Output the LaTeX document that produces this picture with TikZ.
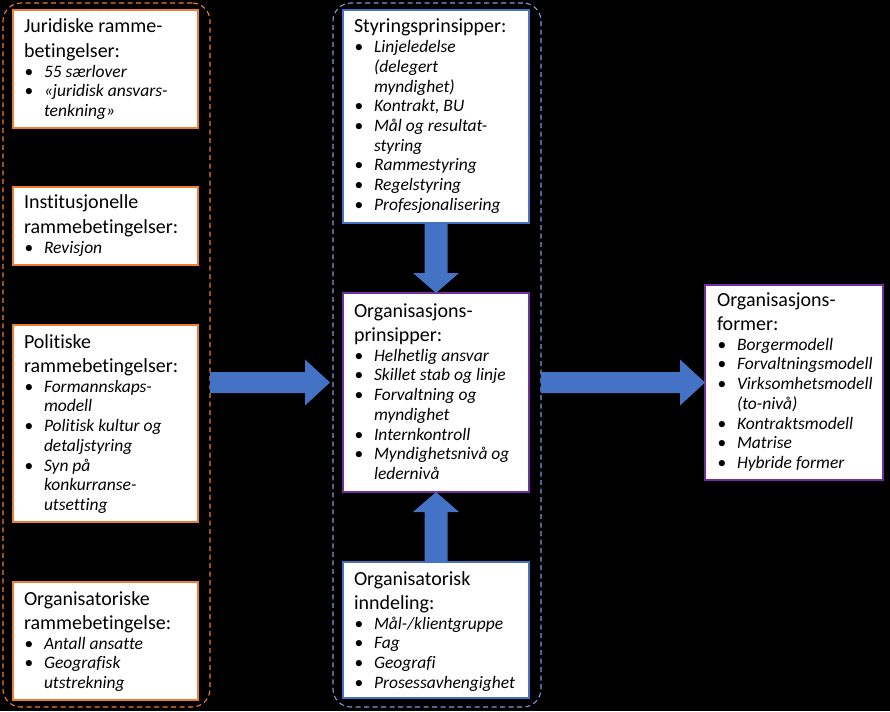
\documentclass[tikz,border=0pt]{standalone}
\usepackage{fontspec}
\setmainfont[Ligatures={NoCommon,NoRare,NoContextual}]{Carlito}
\usetikzlibrary{calc}
\definecolor{orng}{HTML}{ED7D31}
\definecolor{blu}{HTML}{4472C4}
\definecolor{dblu}{HTML}{7E9BD6}
\definecolor{purp}{HTML}{7030A0}
\newcommand\ttl[1]{\baselineskip=24.5pt\hbox{\fontsize{20}{24}\selectfont #1}}
\newcommand\itm[1]{\baselineskip=19.7pt\hbox{\fontsize{17.5}{20}\selectfont\makebox[20pt][l]{\hspace{0.5pt}•}\textit{#1}}}
\newcommand\cnt[1]{\baselineskip=19.7pt\hbox{\fontsize{17.5}{20}\selectfont\hspace*{20pt}\textit{#1}}}
\newcommand\blk[1]{\vtop{\lineskiplimit=-100pt\relax #1}}
\newcommand\harr[2]{\fill[blu] let \p1=(#1), \p2=(#2) in
  (\x1,{\y2+10.5pt}) -- ({\x2-25pt},{\y2+10.5pt}) -- ({\x2-25pt},{\y2+23pt}) -- (\x2,\y2)
  -- ({\x2-25pt},{\y2-23pt}) -- ({\x2-25pt},{\y2-10.5pt}) -- (\x1,{\y2-10.5pt}) -- cycle;}
\newcommand\darr[2]{\fill[blu] let \p1=(#1), \p2=(#2) in
  ({\x2-11.5pt},\y1) -- ({\x2-11.5pt},{\y2+20pt}) -- ({\x2-23pt},{\y2+20pt}) -- (\x2,\y2)
  -- ({\x2+23pt},{\y2+20pt}) -- ({\x2+11.5pt},{\y2+20pt}) -- ({\x2+11.5pt},\y1) -- cycle;}
\newcommand\uarr[2]{\fill[blu] let \p1=(#1), \p2=(#2) in
  ({\x2-11.5pt},\y1) -- ({\x2-11.5pt},{\y2-20pt}) -- ({\x2-23pt},{\y2-20pt}) -- (\x2,\y2)
  -- ({\x2+23pt},{\y2-20pt}) -- ({\x2+11.5pt},{\y2-20pt}) -- ({\x2+11.5pt},\y1) -- cycle;}
\begin{document}
\begin{tikzpicture}[x=1pt,y=-1pt,
  box/.style={draw,fill=white,line width=1.5pt,inner sep=0pt,outer sep=0pt},
  txt/.style={inner sep=0pt,outer sep=0pt,anchor=base west,text=black},
  cont/.style={draw,dash pattern=on 5pt off 3.5pt,line width=1.1pt,rounded corners=18pt,inner sep=0pt,outer sep=0pt}]
\useasboundingbox (0,0) rectangle (890,711);
\fill[black] (0,0) rectangle (890,711);
% containers
\node[cont,draw=orng,minimum width=207pt,minimum height=704pt] (lc) at (106.5,355) {};
\node[cont,draw=dblu,minimum width=208pt,minimum height=704pt] (mc) at (437,355) {};
% left boxes
\node[box,draw=orng,minimum width=185pt,minimum height=118pt] (b1) at (105.5,69) {};
\node[txt] (t1) at ($(b1.north west)+(11,23)$) {\blk{\ttl{Juridiske ramme-}\ttl{betingelser:}\itm{55 særlover}\itm{«juridisk ansvars-}\cnt{tenkning»}}};
\node[box,draw=orng,minimum width=185pt,minimum height=78pt] (b2) at (105.5,226) {};
\node[txt] (t2) at ($(b2.north west)+(11,22)$) {\blk{\ttl{Institusjonelle}\ttl{rammebetingelser:}\itm{Revisjon}}};
\node[box,draw=orng,minimum width=185pt,minimum height=197pt] (b3) at (105.5,423.5) {};
\node[txt] (t3) at ($(b3.north west)+(11,23)$) {\blk{\ttl{Politiske}\ttl{rammebetingelser:}\itm{Formannskaps-}\cnt{modell}\itm{Politisk kultur og}\cnt{detaljstyring}\itm{Syn på}\cnt{konkurranse-}\cnt{utsetting}}};
\node[box,draw=orng,minimum width=185pt,minimum height=118pt] (b4) at (105.5,641) {};
\node[txt] (t4) at ($(b4.north west)+(11,23)$) {\blk{\ttl{Organisatoriske}\ttl{rammebetingelse:}\itm{Antall ansatte}\itm{Geografisk}\cnt{utstrekning}}};
% middle boxes
\node[box,draw=blu,minimum width=186pt,minimum height=213pt] (s) at (436,116.5) {};
\node[txt] (ts) at ($(s.north west)+(11,23)$) {\blk{\ttl{Styringsprinsipper:}\itm{Linjeledelse}\cnt{(delegert}\cnt{myndighet)}\itm{Kontrakt, BU}\itm{Mål og resultat-}\cnt{styring}\itm{Rammestyring}\itm{Regelstyring}\itm{Profesjonalisering}}};
\node[box,draw=purp,minimum width=186pt,minimum height=199pt] (o) at (436,392.5) {};
\node[txt] (to) at ($(o.north west)+(11,24)$) {\blk{\ttl{Organisasjons-}\ttl{prinsipper:}\itm{Helhetlig ansvar}\itm{Skillet stab og linje}\itm{Forvaltning og}\cnt{myndighet}\itm{Internkontroll}\itm{Myndighetsnivå og}\cnt{ledernivå}}};
\node[box,draw=blu,minimum width=186pt,minimum height=136pt] (i) at (436,630) {};
\node[txt] (ti) at ($(i.north west)+(11,23)$) {\blk{\ttl{Organisatorisk}\ttl{inndeling:}\itm{Mål-/klientgruppe}\itm{Fag}\itm{Geografi}\itm{Prosessavhengighet}}};
% right box
\node[box,draw=purp,minimum width=178pt,minimum height=195pt] (r) at (794,382.5) {};
\node[txt] (tr) at ($(r.north west)+(12,21)$) {\blk{\ttl{Organisasjons-}\ttl{former:}\itm{Borgermodell}\itm{Forvaltningsmodell}\itm{Virksomhetsmodell}\cnt{(to-nivå)}\itm{Kontraktsmodell}\itm{Matrise}\itm{Hybride former}}};
% arrows
\coordinate (a1s) at (lc.east |- r.west);
\coordinate (a1e) at ($(mc.west |- r.west)+(-3,0)$);
\coordinate (a2s) at (mc.east |- r.west);
\harr{a1s}{a1e}
\harr{a2s}{r.west}
\darr{s.south}{o.north}
\uarr{i.north}{o.south}
\end{tikzpicture}
\end{document}
